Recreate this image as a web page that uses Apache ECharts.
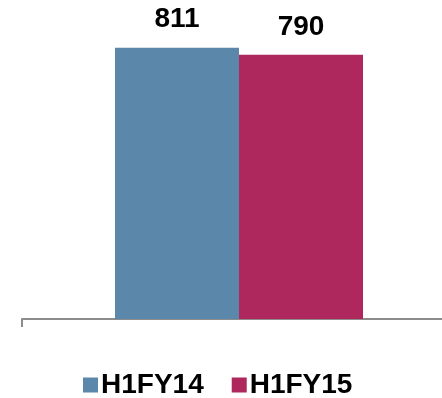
<!DOCTYPE html>
<html><head><meta charset="utf-8">
<script src="https://cdn.jsdelivr.net/npm/echarts@6/dist/echarts.min.js"></script>
<style>html,body{margin:0;padding:0;background:#fff;overflow:hidden}#w{width:442px;height:398px;overflow:hidden;position:relative}#c{width:456px;height:398px;position:absolute;left:0;top:0}</style>
</head><body><div id="w"><div id="c"></div></div>
<script>
const categories = [''];
const seriesNames = ['H1FY14', 'H1FY15'];
const valuesFY14 = [811];
const valuesFY15 = [790];
const colors = ['#5b87ab', '#ae275d'];

const chart = echarts.init(document.getElementById('c'));
const font = '"Liberation Sans", Arial, sans-serif';
chart.setOption({
  animation: false,
  grid: { left: 22, right: 0, top: 18, bottom: 79 },
  legend: {
    data: seriesNames, left: 78, top: 366, icon: 'rect',
    itemWidth: 15, itemHeight: 15, itemGap: 28,
    textStyle: { fontFamily: font, fontWeight: 'bold', fontSize: 28, color: '#000', padding: [0,0,0,-2] }
  },
  xAxis: {
    type: 'category', data: categories,
    axisLine: { lineStyle: { color: '#8c8c8c', width: 2 } },
    axisTick: { show: true, length: 8, lineStyle: { color: '#8c8c8c', width: 2 } },
    axisLabel: { show: false }
  },
  yAxis: { type: 'value', min: 0, max: 900, show: false, splitLine: { show: false } },
  series: [
    { name: seriesNames[0], type: 'bar', data: valuesFY14, barWidth: 124, barGap: '0%',
      itemStyle: { color: colors[0] },
      label: { show: true, position: 'top', distance: 14, fontFamily: font, fontWeight: 'bold', fontSize: 28, color: '#000' } },
    { name: seriesNames[1], type: 'bar', data: valuesFY15, barWidth: 124, barGap: '0%',
      itemStyle: { color: colors[1] },
      label: { show: true, position: 'top', distance: 14, fontFamily: font, fontWeight: 'bold', fontSize: 28, color: '#000' } }
  ]
});
</script></body></html>
